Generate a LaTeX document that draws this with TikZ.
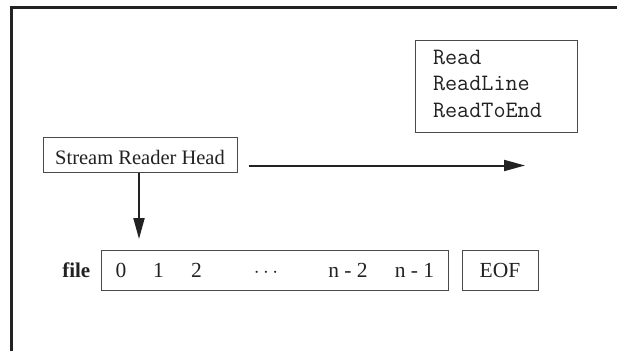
\documentclass[tikz,border=0pt]{standalone}
\usepackage{fontspec}
\setmainfont{Liberation Serif}
\usetikzlibrary{arrows.meta}
\definecolor{ink}{HTML}{222222}
\definecolor{edge}{HTML}{4A4A4A}
\tikzset{
  box/.style={draw=edge, line width=1pt, inner sep=0pt, text=ink},
  lbl/.style={font=\fontsize{21.5}{24}\selectfont, text=ink, inner sep=0pt},
  flow/.style={draw=ink, line width=2pt, -{Triangle[length=21pt,width=11pt]}},
}
\begin{document}
\begin{tikzpicture}[x=1pt,y=-1pt]
\useasboundingbox (0,0) rectangle (617,351);
\fill[white] (0,0) rectangle (617,351);
% outer frame, open to the right and bottom
\draw[line width=2.6pt, draw=ink] (11.5,351) -- (11.5,7.5) -- (617,7.5);

% reader methods
\node[box, align=left, text width=126pt, inner xsep=18pt, minimum height=92pt,
      text height=14.4pt, text depth=58.4pt,
      font=\ttfamily\fontsize{23.5}{26.5}\selectfont] (methods) at (496,86)
  {Read\\ReadLine\\ReadToEnd};

% stream reader head
\node[box, lbl, font=\fontsize{20.5}{23}\selectfont, text height=19pt, text depth=0pt,
      minimum width=194pt, minimum height=35pt] (head) at (140,154.5)
  {Stream Reader Head};
\coordinate (hstart) at (248.5,165.5);
\coordinate (hend) at (525,165.5);
\draw[flow] (hstart) -- (hend);

% file contents
\node[box, minimum width=347pt, minimum height=40pt] (file) at (274.5,270) {};
\node[box, lbl, minimum width=76pt, minimum height=40pt] (eof) at (500,270) {EOF};
\node[lbl, font=\bfseries\fontsize{21}{23}\selectfont, anchor=base east] (filelbl) at (90.5,277.5) {file};
\node[lbl, anchor=base] (c0) at (121,277.5) {0};
\node[lbl, anchor=base] (c1) at (158.5,277.5) {1};
\node[lbl, anchor=base] (c2) at (196.5,277.5) {2};
\node[lbl] (cdots) at (266,273) {$\cdots$};
\node[lbl, anchor=base] (cn2) at (348,277.5) {n - 2};
\node[lbl, anchor=base] (cn1) at (414.5,277.5) {n - 1};

% the head reads down into the file
\draw[flow] (head.south) ++(-1pt,0) coordinate (vtop) -- ([yshift=10.5pt]file.north -| vtop);
\end{tikzpicture}
\end{document}
